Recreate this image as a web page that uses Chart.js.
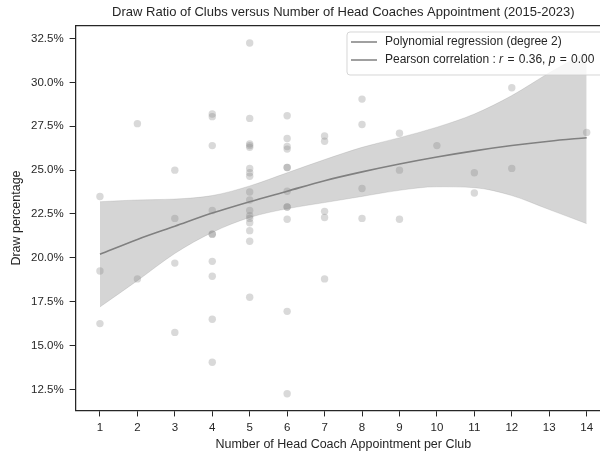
<!DOCTYPE html>
<html>
<head>
<meta charset="utf-8">
<script src="https://cdn.jsdelivr.net/npm/chart.js@4/dist/chart.umd.min.js"></script>
<style>
  html, body { margin: 0; padding: 0; background: #fff; overflow: hidden; }
  #wrap { width: 600px; height: 456px; overflow: hidden; }
</style>
</head>
<body>
<div id="wrap"><canvas id="chart" width="686" height="456"></canvas></div>
<script>
// ===== Data =====
const coachCounts = [
    1, 1, 1,
    2, 2,
    3, 3, 3, 3,
    4, 4, 4, 4, 4, 4, 4, 4, 4, 4,
    5, 5, 5, 5, 5, 5, 5, 5, 5, 5, 5, 5, 5, 5, 5, 5, 5,
    6, 6, 6, 6, 6, 6, 6, 6, 6, 6, 6, 6,
    7, 7, 7, 7, 7,
    8, 8, 8, 8,
    9, 9, 9,
    10,
    11, 11,
    12, 12,
    14
];
const drawPct = [
    23.5, 19.25, 16.25,
    27.65, 18.8,
    25.0, 22.25, 19.7, 15.75,
    28.2, 28.05, 26.4, 22.7, 21.35, 21.35, 19.8, 18.95, 16.5, 14.05,
    32.25, 27.95, 26.5, 26.4, 26.3, 25.1, 24.85, 24.65, 23.75, 23.3, 22.7, 22.4, 22.25, 22.0, 21.55, 20.95, 17.75,
    28.1, 26.8, 26.35, 26.2, 25.15, 25.15, 23.8, 22.9, 22.9, 22.2, 16.95, 12.25,
    26.95, 26.65, 22.65, 22.3, 18.8,
    29.05, 27.6, 23.95, 22.25,
    27.1, 25.0, 22.2,
    26.4,
    24.85, 23.7,
    29.7, 25.1,
    27.15
];

// regression curve and its confidence band
const fitX    = [1, 2, 3, 4, 5, 6, 7, 8, 9, 10, 11, 12, 13, 14];
const fitY    = [20.2, 21.05, 21.8, 22.55, 23.2, 23.8, 24.4, 24.9, 25.35, 25.75, 26.1, 26.4, 26.65, 26.85];
const ciUpper = [23.2, 23.3, 23.35, 23.55, 24.1, 24.85, 25.6, 26.3, 26.85, 27.45, 28.2, 29.25, 30.55, 31.75];
const ciLower = [17.2, 18.7, 20.25, 21.45, 22.3, 22.8, 23.15, 23.5, 23.85, 24.05, 24.0, 23.55, 22.75, 21.95];

const xTickValues = [1, 2, 3, 4, 5, 6, 7, 8, 9, 10, 11, 12, 13, 14];
const yTickValues = [12.5, 15.0, 17.5, 20.0, 22.5, 25.0, 27.5, 30.0, 32.5];

const legendFitLabel = 'Polynomial regression (degree 2)';
const pearsonR = '0.36';
const pearsonP = '0.00';

// ===== Styling =====
const FONT = "'Liberation Sans', Arial, sans-serif";
const INK = '#262626';
const GREY = '#808080';

const toXY = (xs, ys) => xs.map((x, i) => ({ x: x, y: ys[i] }));

// top spine (right one falls outside the picture)
const framePlugin = {
    id: 'frame',
    afterDraw(chart) {
        const { ctx, chartArea: a } = chart;
        ctx.save();
        ctx.strokeStyle = INK;
        ctx.lineWidth = 1.25;
        ctx.beginPath();
        ctx.moveTo(a.left, a.top);
        ctx.lineTo(a.right, a.top);
        ctx.stroke();
        ctx.restore();
    }
};

// legend with italic r and p
const legendPlugin = {
    id: 'mplLegend',
    afterDraw(chart) {
        const ctx = chart.ctx;
        const x0 = 347, y0 = 32, w = 265, h = 43, r = 3;
        ctx.save();
        ctx.beginPath();
        ctx.moveTo(x0 + r, y0);
        ctx.lineTo(x0 + w - r, y0);
        ctx.quadraticCurveTo(x0 + w, y0, x0 + w, y0 + r);
        ctx.lineTo(x0 + w, y0 + h - r);
        ctx.quadraticCurveTo(x0 + w, y0 + h, x0 + w - r, y0 + h);
        ctx.lineTo(x0 + r, y0 + h);
        ctx.quadraticCurveTo(x0, y0 + h, x0, y0 + h - r);
        ctx.lineTo(x0, y0 + r);
        ctx.quadraticCurveTo(x0, y0, x0 + r, y0);
        ctx.closePath();
        ctx.fillStyle = 'rgba(255,255,255,0.8)';
        ctx.fill();
        ctx.strokeStyle = 'rgba(204,204,204,0.8)';
        ctx.lineWidth = 1;
        ctx.stroke();

        const rows = [42, 60];
        ctx.strokeStyle = GREY;
        ctx.lineWidth = 1.5;
        rows.forEach(y => {
            ctx.beginPath();
            ctx.moveTo(351, y);
            ctx.lineTo(377, y);
            ctx.stroke();
        });

        ctx.fillStyle = INK;
        ctx.textBaseline = 'middle';
        ctx.textAlign = 'left';
        const normal = `12px ${FONT}`;
        const italic = `italic 12px ${FONT}`;
        ctx.font = normal;
        ctx.fillText(legendFitLabel, 385, rows[0]);

        // [text, font, extra gap after]  (mathtext puts a little more room round "=")
        const parts = [
            ['Pearson correlation : ', normal, 0],
            ['r', italic, 1],
            [' = ', normal, 1],
            [pearsonR + ', ', normal, 0],
            ['p', italic, 1],
            [' = ', normal, 1],
            [pearsonP, normal, 0]
        ];
        let x = 385;
        parts.forEach(([t, f, gap]) => {
            ctx.font = f;
            ctx.fillText(t, x, rows[1]);
            x += ctx.measureText(t).width + gap;
        });
        ctx.restore();
    }
};

const gridCommon = { display: true, drawOnChartArea: false, drawTicks: true, tickLength: 6, color: INK, lineWidth: 1 };

new Chart(document.getElementById('chart'), {
    type: 'scatter',
    data: {
        datasets: [
            {
                label: 'points',
                data: toXY(coachCounts, drawPct),
                backgroundColor: 'rgba(128,128,128,0.3)',
                borderWidth: 0,
                pointRadius: 3.7,
                order: 4
            },
            {
                label: 'ci upper',
                data: toXY(fitX, ciUpper),
                showLine: true,
                pointRadius: 0,
                borderColor: 'rgba(128,128,128,0.2)',
                borderWidth: 1,
                backgroundColor: 'rgba(128,128,128,0.33)',
                fill: '+1',
                cubicInterpolationMode: 'monotone',
                order: 3
            },
            {
                label: 'ci lower',
                data: toXY(fitX, ciLower),
                showLine: true,
                pointRadius: 0,
                borderColor: 'rgba(128,128,128,0.2)',
                borderWidth: 1,
                fill: false,
                cubicInterpolationMode: 'monotone',
                order: 2
            },
            {
                label: 'fit',
                data: toXY(fitX, fitY),
                showLine: true,
                pointRadius: 0,
                borderColor: GREY,
                borderWidth: 1.6,
                fill: false,
                cubicInterpolationMode: 'monotone',
                order: 1
            }
        ]
    },
    options: {
        responsive: false,
        devicePixelRatio: 1,
        animation: false,
        layout: { padding: { top: 0, left: 9.5, right: 75, bottom: 4.75 } },
        plugins: {
            legend: { display: false },
            tooltip: { enabled: false },
            title: {
                display: true,
                fullSize: false,
                text: 'Draw Ratio of Clubs versus Number of Head Coaches Appointment (2015-2023)',
                color: INK,
                font: { family: FONT, size: 13, weight: 'normal' },
                padding: { top: 5, bottom: 5 }
            }
        },
        scales: {
            x: {
                type: 'linear',
                min: 0.35,
                max: 14.65,
                border: { display: true, color: INK, width: 1.25 },
                grid: gridCommon,
                afterBuildTicks: s => { s.ticks = xTickValues.map(v => ({ value: v })); },
                ticks: {
                    color: INK,
                    padding: 4,
                    font: { family: FONT, size: 11.5 },
                    maxRotation: 0,
                    autoSkip: false,
                    callback: v => String(v)
                },
                title: {
                    display: true,
                    text: 'Number of Head Coach Appointment per Club',
                    color: INK,
                    font: { family: FONT, size: 12.5, lineHeight: 1 },
                    padding: { top: 0.5, bottom: 0 }
                }
            },
            y: {
                type: 'linear',
                min: 11.3,
                max: 33.24,
                border: { display: true, color: INK, width: 1.25 },
                grid: gridCommon,
                afterBuildTicks: s => { s.ticks = yTickValues.map(v => ({ value: v })); },
                ticks: {
                    color: INK,
                    padding: 6,
                    font: { family: FONT, size: 11.5 },
                    autoSkip: false,
                    callback: v => v.toFixed(1) + '%'
                },
                title: {
                    display: true,
                    text: 'Draw percentage',
                    color: INK,
                    font: { family: FONT, size: 12.5 },
                    padding: { top: 0, bottom: 0.5 }
                }
            }
        }
    },
    plugins: [framePlugin, legendPlugin]
});
</script>
</body>
</html>
